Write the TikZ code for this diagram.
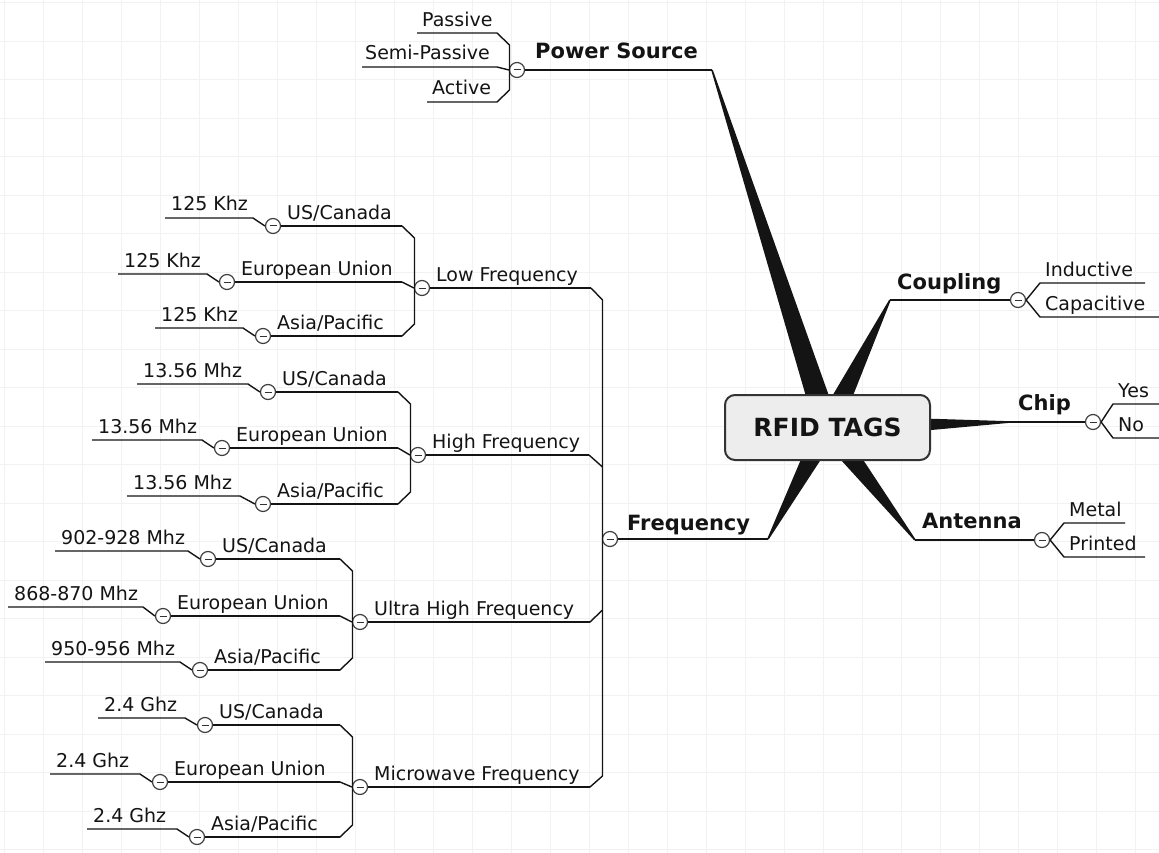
\documentclass[tikz,border=0pt]{standalone}
\usepackage{fontspec}
\setmainfont{DejaVu Sans}
\usetikzlibrary{calc}
\definecolor{ink}{HTML}{141414}
\definecolor{hubfill}{HTML}{EDEDED}

% left-hand leaf: underline, then a short slant into the parent's knob
\newcommand{\leafL}[6]{%
  \coordinate (#1-a) at (#3,#5);
  \coordinate (#1-b) at (#4,#5);
  \node[small, anchor=base west] (#1) at ($(#1-a)+(6,-7)$) {#2};
  \draw[conn] (#1-a) -- (#1-b) -- (#6.west);}
% right-hand leaf: slant out of the parent's knob, then underline
\newcommand{\leafR}[6]{%
  \coordinate (#1-a) at (#3,#5);
  \coordinate (#1-b) at (#4,#5);
  \node[small, anchor=base west] (#1) at ($(#1-a)+(5,-7)$) {#2};
  \draw[conn] (#6.east) -- (#1-a) -- (#1-b);}
% left-hand topic with its collapse knob and underline
\newcommand{\branchL}[5]{%
  \node[knob] (#1) at (#3,#4) {};
  \coordinate (#1-b) at (#5,#4);
  \node[small, anchor=base west] (#1-t) at ($(#1)+(14,-7)$) {#2};
  \draw[conn] (#1.east) -- (#1-b);}
% tapered spoke from the central topic
\newcommand{\spoke}[2]{%
  \fill[ink] ($(#1)!12pt!90:(#2)$) -- ($(#2)!0.8pt!-90:(#1)$) --
             ($(#2)!0.8pt!90:(#1)$) -- ($(#1)!12pt!-90:(#2)$) -- cycle;}

\begin{document}
\begin{tikzpicture}[x=1pt,y=-1pt,
  conn/.style={draw=ink, line width=1.4pt, line join=round},
  small/.style={font=\fontsize{19}{22}\selectfont, text=ink, inner sep=0pt},
  main/.style={font=\bfseries\fontsize{21}{24}\selectfont, text=ink, inner sep=0pt},
  knob/.style={circle, draw=black!75, fill=white, line width=1.2pt,
    minimum size=15pt, inner sep=0pt,
    path picture={\draw[line width=1pt, black!80]
      ([xshift=-3.5pt]path picture bounding box.center) --
      ([xshift=3.5pt]path picture bounding box.center);}},
  gridline/.style={draw=black!5, line width=0.5pt},
  hubbox/.style={draw=black!80, fill=hubfill, line width=2pt,
    rounded corners=10pt, minimum width=205pt, minimum height=65pt,
    font=\bfseries\fontsize{25}{28}\selectfont, text=ink}]

% canvas and faint page grid
\fill[white] (0,0) rectangle (1159,853);
\useasboundingbox (0,0) rectangle (1159,853);
\foreach \gx in {4,43,...,1159} {\draw[gridline] (\gx,0) -- (\gx,853);}
\foreach \gy in {2.5,41,...,853} {\draw[gridline] (0,\gy) -- (1159,\gy);}

% spokes from the central topic
\coordinate (hubc) at (827.5,427.5);
\coordinate (pstip) at (712,70);
\coordinate (cptip) at (890,300);
\coordinate (chtip) at (1010,422);
\coordinate (antip) at (915,540);
\coordinate (frtip) at (768,539);
\spoke{hubc}{pstip}
\spoke{hubc}{cptip}
\spoke{hubc}{chtip}
\spoke{hubc}{antip}
\spoke{hubc}{frtip}
\node[hubbox] (hub) at (hubc) {RFID TAGS};

% ---------------- Power Source ----------------
\node[knob] (pow) at (517,70) {};
\node[main, anchor=base west] (pow-t) at (535,59) {Power Source};
\draw[conn] (pow.east) -- (pstip);
\coordinate (pa-a) at (417,33);  \coordinate (pa-b) at (497,33);
\coordinate (sp-a) at (362,67);  \coordinate (sp-b) at (497,67);
\coordinate (ac-a) at (427,102); \coordinate (ac-b) at (497,102);
\node[small, anchor=base west] (pa) at (422,27) {Passive};
\node[small, anchor=base west] (sp) at (365,60) {Semi-Passive};
\node[small, anchor=base west] (ac) at (432,95) {Active};
\coordinate (pt) at (509.5,45); \coordinate (pb) at (509.5,90);
\draw[conn] (pa-a) -- (pa-b) -- (pt) -- (pb) -- (ac-b) -- (ac-a);
\draw[conn] (sp-a) -- (sp-b) -- (pow.west);

% ---------------- Coupling ----------------
\node[knob] (cpl) at (1018,300) {};
\node[main, anchor=base west] (cpl-t) at (897,289) {Coupling};
\draw[conn] (cptip) -- (cpl.west);
\leafR{ind}{Inductive}{1040}{1145}{283}{cpl}
\leafR{cap}{Capacitive}{1040}{1160}{317}{cpl}

% ---------------- Chip ----------------
\node[knob] (chip) at (1093,422) {};
\node[main, anchor=base west] (chip-t) at (1018,410) {Chip};
\draw[conn] (chtip) -- (chip.west);
\leafR{yes}{Yes}{1113}{1160}{404}{chip}
\leafR{no}{No}{1113}{1160}{438}{chip}

% ---------------- Antenna ----------------
\node[knob] (ant) at (1042,540) {};
\node[main, anchor=base west] (ant-t) at (922,528) {Antenna};
\draw[conn] (antip) -- (ant.west);
\leafR{met}{Metal}{1064}{1125}{523}{ant}
\leafR{pri}{Printed}{1064}{1145}{557}{ant}

% ---------------- Frequency ----------------
\node[knob] (freq) at (610,539) {};
\node[main, anchor=base west] (freq-t) at (627,530) {Frequency};
\draw[conn] (freq.east) -- (frtip);

\branchL{low}{Low Frequency}{422}{288}{591}
\branchL{high}{High Frequency}{418}{455}{589}
\branchL{uhf}{Ultra High Frequency}{360}{622}{590}
\branchL{mw}{Microwave Frequency}{360}{787}{590}
\coordinate (ftop) at (602.5,300);
\coordinate (fhigh) at (602.5,467);
\coordinate (fuhf) at (602.5,610);
\coordinate (fbot) at (602.5,776);
\draw[conn] (low-b) -- (ftop) -- (fbot) -- (mw-b);
\draw[conn] (high-b) -- (fhigh);
\draw[conn] (uhf-b) -- (fuhf);

% Low Frequency
\branchL{lowus}{US/Canada}{273}{226}{402}
\branchL{loweu}{European Union}{227}{282}{402}
\branchL{lowap}{Asia/Pacific}{263}{336}{402}
\coordinate (lt) at (414.5,238); \coordinate (lb) at (414.5,324);
\draw[conn] (lowus-b) -- (lt) -- (lb) -- (lowap-b);
\draw[conn] (loweu-b) -- (low.west);
\leafL{l1}{125 Khz}{165}{253}{218}{lowus}
\leafL{l2}{125 Khz}{118}{207}{274}{loweu}
\leafL{l3}{125 Khz}{155}{243}{328}{lowap}

% High Frequency
\branchL{hius}{US/Canada}{268}{392}{398}
\branchL{hieu}{European Union}{222}{448}{398}
\branchL{hiap}{Asia/Pacific}{263}{504}{398}
\coordinate (ht) at (410.5,404); \coordinate (hb) at (410.5,492);
\draw[conn] (hius-b) -- (ht) -- (hb) -- (hiap-b);
\draw[conn] (hieu-b) -- (high.west);
\leafL{h1}{13.56 Mhz}{137}{248}{384}{hius}
\leafL{h2}{13.56 Mhz}{92}{202}{440}{hieu}
\leafL{h3}{13.56 Mhz}{127}{240}{496}{hiap}

% Ultra High Frequency
\branchL{uus}{US/Canada}{208}{559}{340}
\branchL{ueu}{European Union}{163}{616}{340}
\branchL{uap}{Asia/Pacific}{200}{670}{340}
\coordinate (ut) at (352.5,571); \coordinate (ub) at (352.5,658);
\draw[conn] (uus-b) -- (ut) -- (ub) -- (uap-b);
\draw[conn] (ueu-b) -- (uhf.west);
\leafL{u1}{902-928 Mhz}{55}{188}{551}{uus}
\leafL{u2}{868-870 Mhz}{8}{143}{607}{ueu}
\leafL{u3}{950-956 Mhz}{45}{180}{662}{uap}

% Microwave Frequency
\branchL{mus}{US/Canada}{205}{725}{340}
\branchL{meu}{European Union}{160}{782}{340}
\branchL{map}{Asia/Pacific}{197}{837}{340}
\coordinate (mt) at (352.5,737); \coordinate (mb) at (352.5,825);
\draw[conn] (mus-b) -- (mt) -- (mb) -- (map-b);
\draw[conn] (meu-b) -- (mw.west);
\leafL{m1}{2.4 Ghz}{98}{185}{718}{mus}
\leafL{m2}{2.4 Ghz}{50}{140}{774}{meu}
\leafL{m3}{2.4 Ghz}{87}{177}{829}{map}

\end{tikzpicture}
\end{document}
